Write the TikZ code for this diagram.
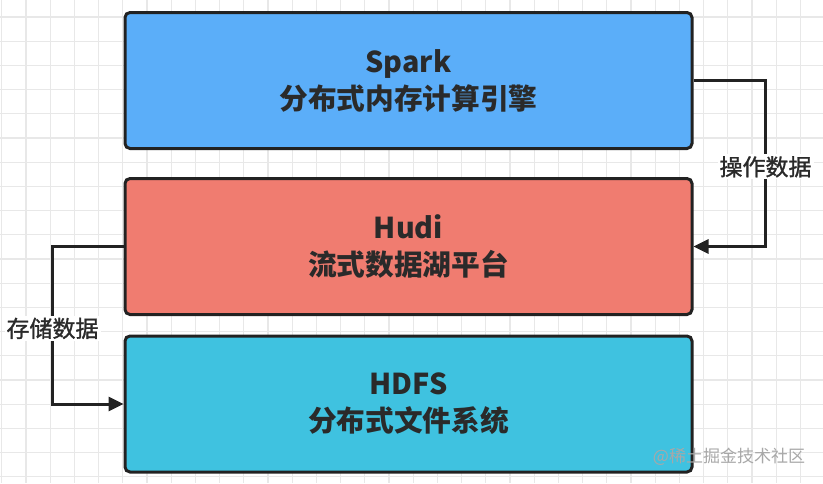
\documentclass[tikz,border=0pt]{standalone}
\usepackage{fontspec}
\setmainfont{Noto Sans CJK SC}
\newfontfamily\lblfont{Noto Sans CJK SC}[FakeBold=1.2]
\usetikzlibrary{arrows.meta}
\definecolor{sparkc}{HTML}{5BAEF9}
\definecolor{hudic}{HTML}{F07C70}
\definecolor{hdfsc}{HTML}{3FC2E0}
\definecolor{edgec}{HTML}{222222}
\definecolor{txtc}{HTML}{2A2A2A}
\definecolor{gridc}{HTML}{E8E8E8}
\definecolor{wmc}{HTML}{A8A8A8}
\tikzset{
  layerbox/.style={draw=edgec, line width=3pt, rounded corners=5pt,
    minimum width=567pt, minimum height=136pt, inner sep=0pt,
    align=center, text=txtc, font=\fontsize{28.7}{37}\selectfont\bfseries},
  conn/.style={draw=edgec, line width=3pt, -{Triangle[length=15pt,width=14pt]}},
  lbl/.style={fill=white, text=txtc, inner sep=2pt, font=\fontsize{23}{26}\selectfont\lblfont},
}
\begin{document}
\begin{tikzpicture}[x=1pt,y=-1pt]
\useasboundingbox (0,0) rectangle (823,483);
\fill[white] (0,0) rectangle (823,483);
\foreach \i in {0,...,34} \draw[gridc, line width=1.2pt] ({1.8+24.2*\i},0) -- ({1.8+24.2*\i},483);
\foreach \j in {0,...,19} \draw[gridc, line width=1.2pt] (0,{17+24.2*\j}) -- (823,{17+24.2*\j});
\node[layerbox, fill=sparkc] (spark) at (408.5,80.5) {Spark\\分布式内存计算引擎};
\node[layerbox, fill=hudic] (hudi) at (408.5,246.5) {Hudi\\流式数据湖平台};
\node[layerbox, fill=hdfsc] (hdfs) at (408.5,404) {HDFS\\分布式文件系统};
\draw[conn] (spark.east) -- ++(72,0) |- node[lbl, pos=0.26] (op) {操作数据} (hudi.east);
\draw[conn] (hudi.west) -- ++(-71,0) |- node[lbl, pos=0.26] (st) {存储数据} (hdfs.west);
\node[text=wmc, font=\fontsize{17}{20}\selectfont, inner sep=0pt] (wm) at (729,457) {@稀土掘金技术社区};
\end{tikzpicture}
\end{document}
